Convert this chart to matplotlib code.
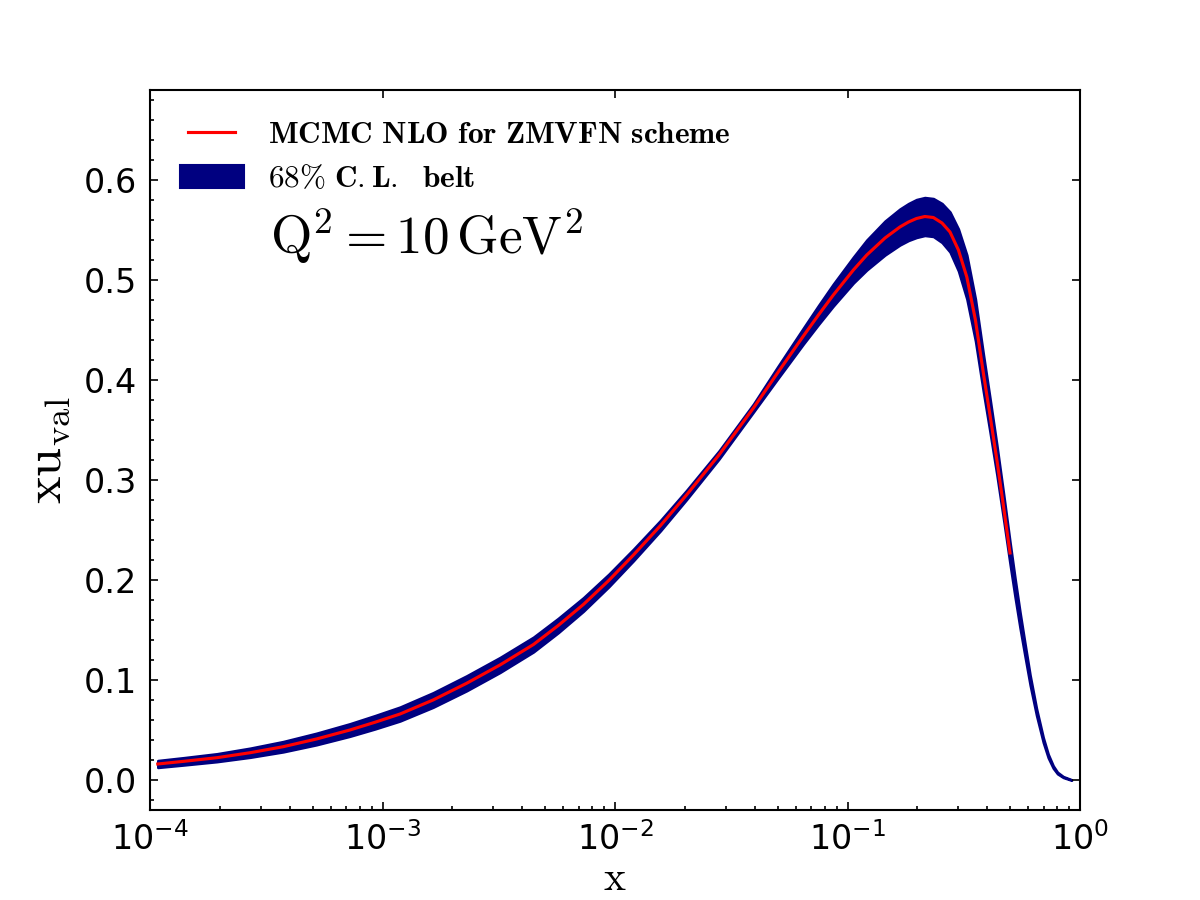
import numpy as np
import matplotlib
matplotlib.use("Agg")
import matplotlib.pyplot as plt
from matplotlib.ticker import MultipleLocator, FixedLocator, LogLocator, FuncFormatter, NullFormatter
from matplotlib.lines import Line2D
from matplotlib.patches import Patch
from matplotlib.legend_handler import HandlerLine2D
from matplotlib.font_manager import FontProperties

# ---- data ----
x_vals = [1.08e-4, 1.40e-4, 1.94e-4, 2.70e-4, 3.74e-4, 5.20e-4, 7.24e-4, 9.30e-4,
          1.19e-3, 1.65e-3, 2.30e-3, 3.20e-3, 4.46e-3, 5.70e-3, 7.31e-3, 9.40e-3,
          0.0120, 0.0157, 0.0203, 0.0280, 0.0394, 0.0500, 0.0646, 0.0750, 0.0869,
          0.106, 0.121, 0.145, 0.168, 0.183, 0.198, 0.215, 0.234, 0.255, 0.276,
          0.300, 0.326, 0.355, 0.384, 0.410, 0.439, 0.470, 0.500, 0.525, 0.552,
          0.580, 0.610, 0.650, 0.695, 0.730, 0.767, 0.800, 0.847, 0.920]
xu_central = [0.016, 0.0187, 0.0223, 0.0273, 0.0333, 0.041, 0.050, 0.0578,
              0.066, 0.080, 0.0967, 0.115, 0.1355, 0.1545, 0.1755, 0.1995,
              0.225, 0.2545, 0.285, 0.325, 0.372, 0.407, 0.444, 0.465, 0.485,
              0.510, 0.525, 0.542, 0.553, 0.558, 0.5615, 0.5635, 0.5625, 0.557, 0.548,
              0.530, 0.503, 0.460, 0.407, 0.365, 0.320, 0.272, 0.227, 0.193, 0.160,
              0.130, 0.100, 0.068, 0.040, 0.024, 0.013, 0.007, 0.003, 0.000]
xu_halfwidth = [0.0035, 0.0037, 0.004, 0.0046, 0.0052, 0.0058, 0.0063, 0.0067,
                0.007, 0.0073, 0.0075, 0.0075, 0.0074, 0.0072, 0.0068, 0.0063,
                0.0058, 0.0052, 0.0046, 0.0041, 0.004, 0.006, 0.008, 0.0095, 0.011,
                0.013, 0.015, 0.017, 0.018, 0.0185, 0.019, 0.019, 0.019, 0.0195, 0.020,
                0.021, 0.022, 0.021, 0.019, 0.017, 0.015, 0.013, 0.011, 0.0095, 0.008,
                0.0065, 0.005, 0.0035, 0.0025, 0.0018, 0.0012, 0.0008, 0.0005, 0.0003]
central_xmax = 0.50  # red curve visible up to here

legend_labels = [r"$\mathbf{MCMC\ NLO\ for\ ZMVFN\ scheme}$",
                 r"$68\%\ \mathbf{C.L.\ \ belt}$"]
annotation = r"$\mathrm{Q^2=10\,GeV^2}$"
x_label = r"$\mathrm{x}$"
y_label = r"$\mathrm{xu_{val}}$"
y_ticks = [0.0, 0.1, 0.2, 0.3, 0.4, 0.5, 0.6]
x_ticks = [1e-4, 1e-3, 1e-2, 1e-1, 1e0]
x_ticklabels = [r"$10^{-4}$", r"$10^{-3}$", r"$10^{-2}$", r"$10^{-1}$", r"$10^{0}$"]

# ---- plotting ----
plt.rcParams['mathtext.fontset'] = 'dejavusans'
plt.rcParams['font.family'] = 'DejaVu Sans'

x = np.array(x_vals)
c = np.array(xu_central)
h = np.array(xu_halfwidth)

fig = plt.figure(figsize=(8, 6), dpi=150)
ax = fig.add_axes([0.125, 0.1, 0.775, 0.8])

ax.fill_between(x, c - h, c + h, facecolor='navy', edgecolor='navy', linewidth=1.2, zorder=1)
m = x <= central_xmax
ax.plot(x[m], c[m], color='red', linewidth=1.5, zorder=2)

ax.set_xscale('log')
ax.set_xlim(1e-4, 1.0)
ax.set_ylim(-0.03, 0.69)

ax.xaxis.set_major_locator(FixedLocator(x_ticks))
ax.xaxis.set_major_formatter(FuncFormatter(lambda v, p: x_ticklabels[x_ticks.index(v)] if v in x_ticks else ""))
ax.xaxis.set_minor_locator(LogLocator(base=10, subs=np.arange(2, 10), numticks=20))
ax.xaxis.set_minor_formatter(NullFormatter())
ax.yaxis.set_major_locator(FixedLocator(y_ticks))
ax.set_yticklabels([f"{v:.1f}" for v in y_ticks])
ax.yaxis.set_minor_locator(MultipleLocator(0.02))

ax.tick_params(which='major', direction='in', length=4, width=0.8, labelsize=16,
               top=True, right=True, pad=6)
ax.tick_params(which='minor', direction='in', length=2, width=0.8,
               top=False, right=False)
for s in ax.spines.values():
    s.set_linewidth(1.0)

ax.set_xlabel(x_label, fontsize=20, math_fontfamily='cm', labelpad=0)
ax.set_ylabel(y_label, fontsize=25, math_fontfamily='cm', labelpad=6)

handles = [Line2D([], [], color='red', linewidth=1.5),
           Patch(facecolor='navy', edgecolor='navy')]
leg = ax.legend(handles, legend_labels, loc='upper left', frameon=False,
                prop=FontProperties(size=15, math_fontfamily='cm'),
                handlelength=2.05, handleheight=0.74, handletextpad=0.78,
                labelspacing=0.5, borderaxespad=0.5, borderpad=0.45,
                handler_map={Line2D: HandlerLine2D(numpoints=2, marker_pad=0.27)})

ax.text(0.129, 0.772, annotation, transform=ax.transAxes, fontsize=25.5,
        math_fontfamily='cm', va='baseline', ha='left')

fig.savefig('out.png', dpi=150)
